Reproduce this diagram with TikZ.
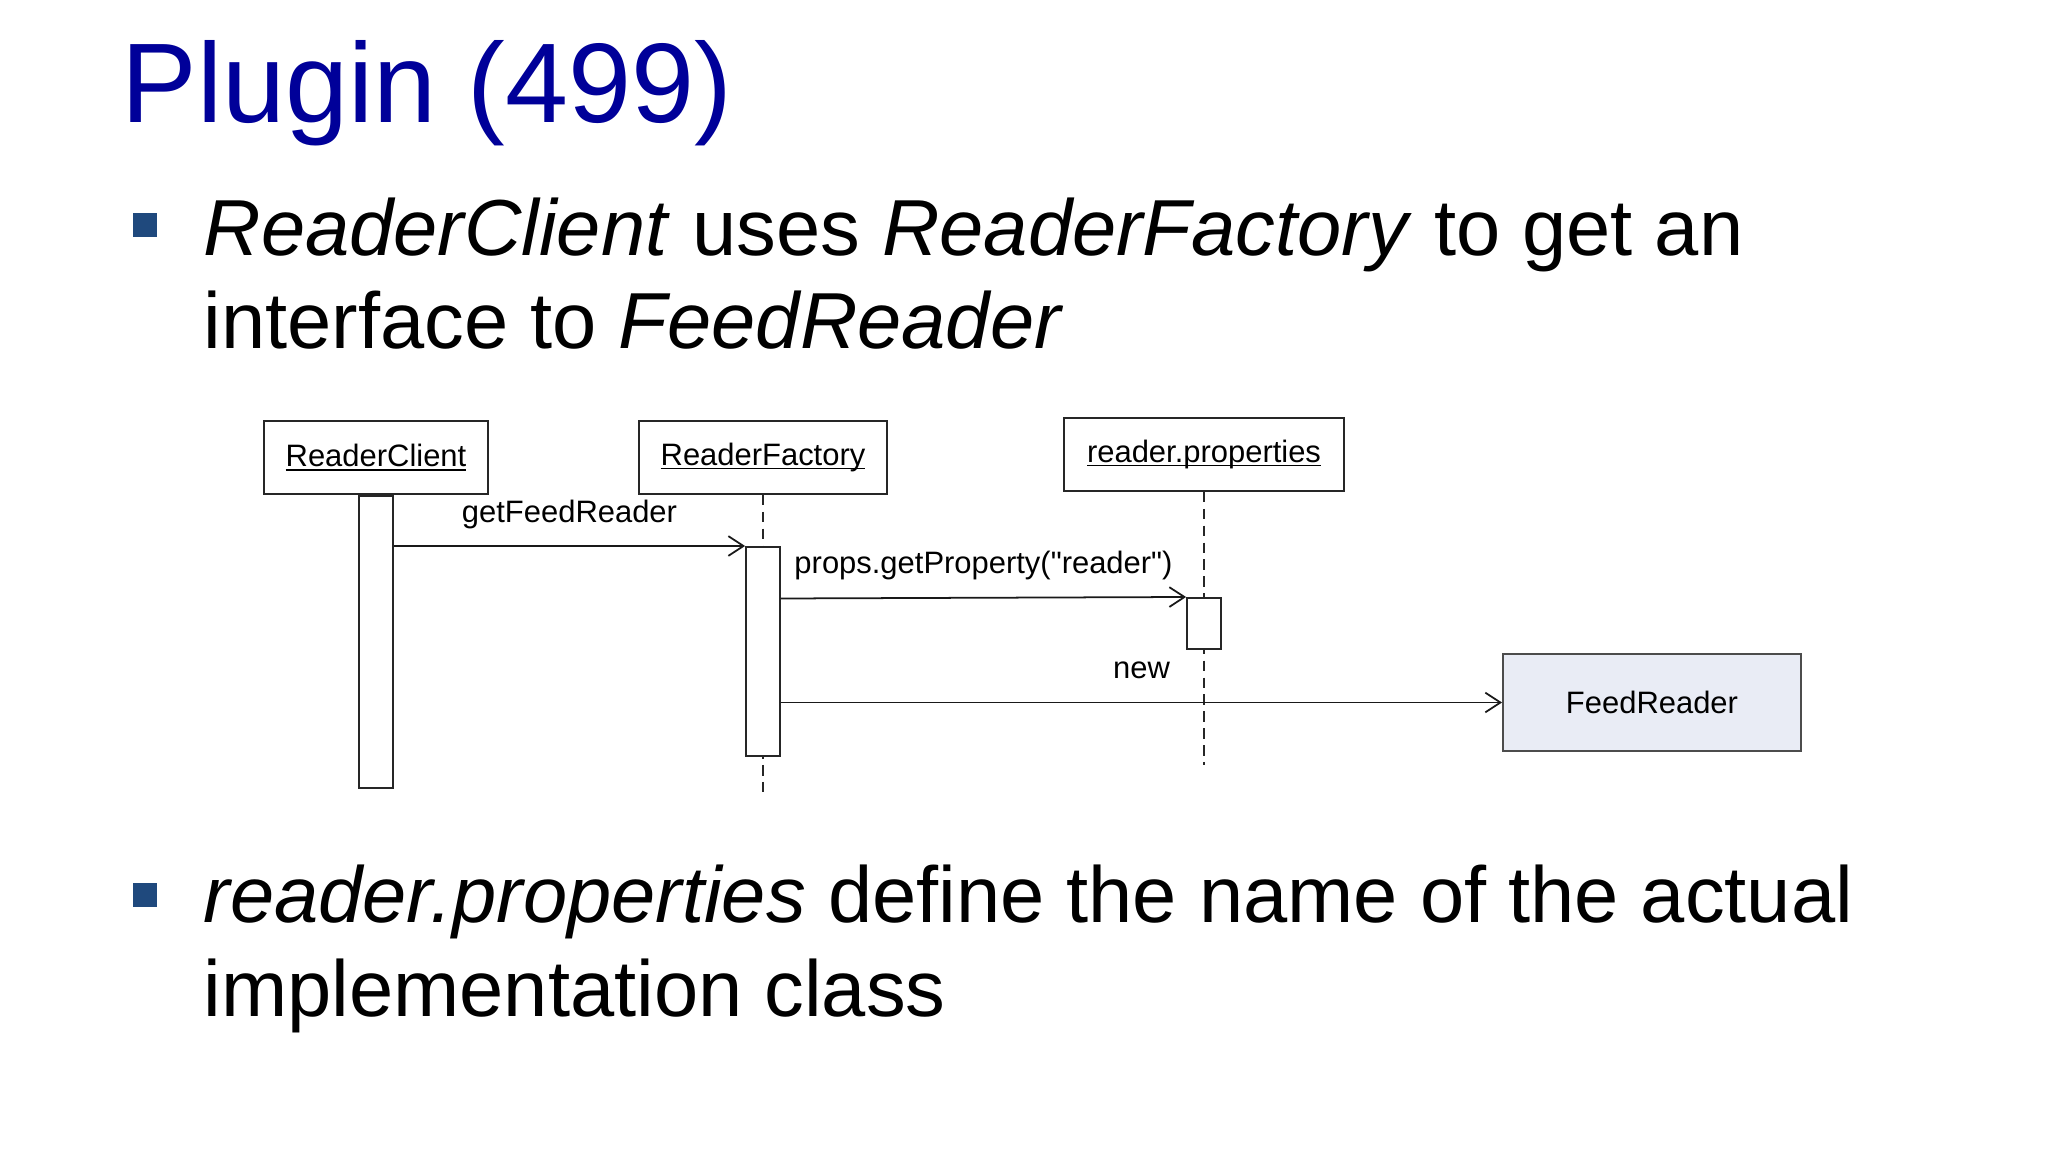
\documentclass[tikz,border=0pt]{standalone}
\usepackage{fontspec}
\setmainfont{Liberation Sans}
\newfontfamily\diagfam{Liberation Sans}[Ligatures=TeXOff]
\usepackage{tikz}
\usetikzlibrary{arrows.meta, positioning, calc}
\usepackage{xcolor}

\definecolor{titleblue}{RGB}{0,0,153}
\definecolor{bulletblue}{RGB}{31,73,125}
\definecolor{feedfill}{RGB}{233,236,245}

\newcommand{\diagfont}{\diagfam\fontsize{8.8}{10.5}\selectfont}
\newcommand{\objlabel}[1]{\setbox0\hbox{#1}\rlap{\rule[-1.1pt]{\wd0}{0.45pt}}\box0}

\begin{document}
\begin{tikzpicture}[
        x=0.01cm, y=-0.01cm,
        objbox/.style={rectangle, draw=black!85, fill=white, line width=0.5pt, inner sep=0pt, minimum height=0.73cm, font=\diagfont},
        actbox/.style={rectangle, draw=black!85, fill=white, line width=0.5pt, inner sep=0pt, minimum width=0.34cm, anchor=north},
        lifeline/.style={draw=black!85, line width=0.5pt, dash pattern=on 3pt off 1.8pt},
        msg/.style={draw=black!90, line width=0.5pt, -{Straight Barb[length=4.3pt, width=5.6pt]}},
        msglabel/.style={midway, anchor=base, yshift=6.8pt, inner sep=0pt, font=\diagfont},
        bulletsq/.style={rectangle, fill=bulletblue, inner sep=0pt, minimum size=0.23cm},
        bullettext/.style={anchor=base west, align=left, inner sep=0pt, font=\fontsize{22.6}{26.7}\selectfont}
    ]
        % Slide area
        \useasboundingbox (0, 0) rectangle (2048, 1152);
        \fill [white] (0, 0) rectangle (2048, 1152);

        % Title and bullet points (base anchor sits on the last line)
        \node [anchor=base west, inner sep=0pt, text=titleblue, font=\fontsize{32.2}{38}\selectfont] (title) at (121, 123) {Plugin (499)};
        \node [bulletsq] (dot1) at (145, 225) {};
        \node [bullettext] (point1) at (203, 349) {\textit{ReaderClient} uses \textit{ReaderFactory} to get an\\interface to \textit{FeedReader}};
        \node [bulletsq] (dot2) at (145, 895) {};
        \node [bullettext] (point2) at (203, 1016) {\textit{reader.properties} define the name of the actual\\implementation class};

        % Object heads
        \node [objbox, minimum width=2.24cm] (client) at (376, 457.5) {\objlabel{ReaderClient}};
        \node [objbox, minimum width=2.48cm] (factory) at (763, 457.5) {\objlabel{ReaderFactory}};
        \node [objbox, minimum width=2.80cm] (props) at (1204, 454.5) {\objlabel{reader.properties}};
        \node [objbox, draw=black!70, fill=feedfill, minimum width=2.98cm, minimum height=0.97cm] (feed) at (1652, 702.5) {FeedReader};

        % Lifelines
        \coordinate (factoryend) at (763, 792);
        \coordinate (propsend) at (1204, 765);
        \draw [lifeline] (factory.south) -- (factoryend);
        \draw [lifeline] (props.south) -- (propsend);

        % Activations
        \node [actbox, minimum height=2.92cm] (clientact) at (client.south) {};
        \node [actbox, minimum height=2.09cm] (factoryact) at (763, 546) {};
        \node [actbox, minimum height=0.51cm] (propsact) at (1204, 597) {};

        % Messages
        \draw [msg] (clientact.east |- factoryact.north) -- node[msglabel] {getFeedReader} (factoryact.north west);
        \draw [msg] ($(factoryact.east |- propsact.north)+(0, 1.5)$) -- node[msglabel] {props.getProperty("reader")} (propsact.north west);
        \draw [msg] (factoryact.east |- feed.west) -- node[msglabel] {new} (feed.west);
    \end{tikzpicture}
\end{document}
